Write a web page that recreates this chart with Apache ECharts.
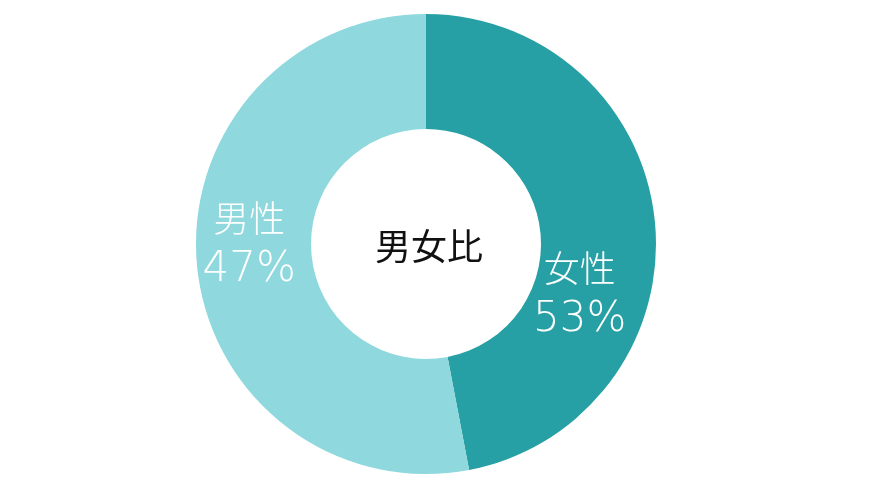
<!DOCTYPE html>
<html>
<head>
<meta charset="utf-8">
<script src="https://cdn.jsdelivr.net/npm/echarts@6/dist/echarts.min.js"></script>
<style>
  html, body { margin: 0; padding: 0; background: #fff; }
  #main { width: 880px; height: 480px; }
</style>
</head>
<body>
<div id="main"></div>
<script>
// 中央のタイトル
var centerTitle = '男女比';
// ラベル（名称と表示割合）
var genderNames = ['女性', '男性'];
var genderShares = [53, 47];
// 円弧として描かれている割合
var sliceValues = [47, 53];
var sliceColors = ['#26a0a4', '#8ed8de'];

var myChart = echarts.init(document.getElementById('main'));

var labelOffsets = [[-21, 67], [-2, -16]];

var pieData = [];
for (var i = 0; i < sliceValues.length; i++) {
    pieData.push({
        name: genderNames[i],
        value: sliceValues[i],
        share: genderShares[i],
        itemStyle: {color: sliceColors[i]},
        label: {offset: labelOffsets[i]}
    });
}

var option = {
    animation: false,
    title: {
        text: centerTitle,
        left: 424,
        top: 241,
        textAlign: 'center',
        textVerticalAlign: 'middle',
        textStyle: {
            fontFamily: 'Noto Sans CJK JP',
            fontWeight: 'normal',
            fontSize: 36,
            color: '#111'
        }
    },
    series: [
        {
            type: 'pie',
            center: [426, 244],
            radius: [115, 230],
            startAngle: 90,
            clockwise: true,
            silent: true,
            itemStyle: {borderWidth: 0},
            label: {
                show: true,
                position: 'inside',
                formatter: function (p) {
                    return '{n|' + p.name + '}\n{p|' + p.data.share + '%}';
                },
                rich: {
                    n: {
                        fontFamily: 'Noto Sans CJK JP',
                        fontWeight: 300,
                        fontSize: 36,
                        color: '#fff',
                        lineHeight: 52
                    },
                    p: {
                        fontFamily: 'DejaVu Sans',
                        fontWeight: 200,
                        fontSize: 42,
                        color: '#fff',
                        lineHeight: 52
                    }
                }
            },
            labelLine: {show: false},
            data: pieData
        }
    ]
};

myChart.setOption(option);
</script>
</body>
</html>
